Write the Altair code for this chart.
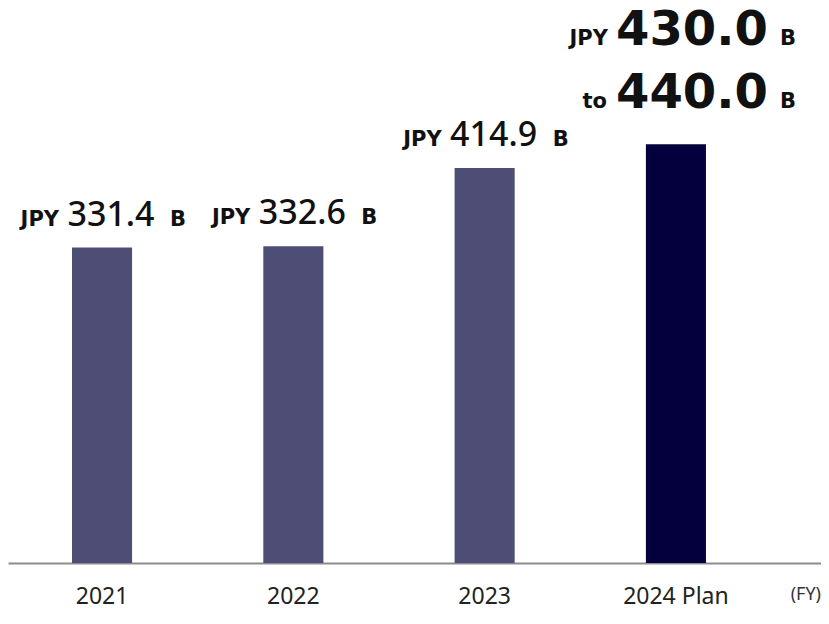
import altair as alt
import pandas as pd

years = ["2021", "2022", "2023", "2024 Plan"]
values = [331.4, 332.6, 414.9, 440.0]
kinds = ["actual", "actual", "actual", "plan"]
plan_low = [None, None, None, 430.0]

df = pd.DataFrame({"year": years, "value": values, "kind": kinds, "low": plan_low})

xenc = alt.X("year:N", sort=years,
             scale=alt.Scale(paddingInner=0.686, paddingOuter=0.468, align=0.3575),
             axis=alt.Axis(title=None, labelAngle=0, labelFontSize=23,
                           labelFont="Noto Sans",
                           labelColor="#222222", domainColor="#8c8c8c", domainWidth=2,
                           ticks=False, tickSize=0, labelPadding=22, grid=False))
yenc = alt.Y("value:Q", scale=alt.Scale(domain=[0, 583], nice=False, zero=True), axis=None)

base = alt.Chart(df)

bars = base.mark_bar().encode(
    x=xenc, y=yenc,
    color=alt.Color("kind:N", scale=alt.Scale(domain=["actual", "plan"],
                                              range=["#4e4d76", "#03003d"]), legend=None),
)

act = base.transform_filter(alt.datum.kind == "actual")
num_act = act.mark_text(font="Noto Sans", fontWeight=500, fontSize=34, align="center",
                        baseline="alphabetic", dx=9, dy=-22, color="#111111").encode(
    x=alt.X("year:N", sort=years), y="value:Q", text=alt.Text("value:Q", format=".1f"))
jpy_act = act.mark_text(font="DejaVu Sans", fontWeight="bold", fontSize=21, align="right",
                        baseline="alphabetic", dx=-43, dy=-22, color="#111111", text="JPY").encode(
    x=alt.X("year:N", sort=years), y="value:Q")
b_act = act.mark_text(font="DejaVu Sans", fontWeight="bold", fontSize=21, align="left",
                      baseline="alphabetic", dx=68, dy=-22, color="#111111", text="B").encode(
    x=alt.X("year:N", sort=years), y="value:Q")

plan = base.transform_filter(alt.datum.kind == "plan")
big = dict(font="DejaVu Sans", fontWeight="bold", fontSize=48, align="center",
           baseline="alphabetic", dx=16, color="#111111")
small = dict(font="DejaVu Sans", fontWeight="bold", fontSize=21, baseline="alphabetic",
             color="#111111")
n1 = plan.mark_text(dy=-99, **big).encode(
    x=alt.X("year:N", sort=years), y="value:Q", text=alt.Text("low:Q", format=".1f"))
n2 = plan.mark_text(dy=-36, **big).encode(
    x=alt.X("year:N", sort=years), y="value:Q", text=alt.Text("value:Q", format=".1f"))
j1 = plan.mark_text(align="right", dx=-68, dy=-99, text="JPY", **small).encode(
    x=alt.X("year:N", sort=years), y="value:Q")
t2 = plan.mark_text(align="right", dx=-69, dy=-36, text="to", **small).encode(
    x=alt.X("year:N", sort=years), y="value:Q")
b1 = plan.mark_text(align="left", dx=104, dy=-99, text="B", **small).encode(
    x=alt.X("year:N", sort=years), y="value:Q")
b2 = plan.mark_text(align="left", dx=104, dy=-36, text="B", **small).encode(
    x=alt.X("year:N", sort=years), y="value:Q")

fy = alt.Chart(pd.DataFrame({"t": ["(FY)"]})).mark_text(
    font="Noto Sans", fontSize=18, align="right", baseline="alphabetic", color="#333333"
).encode(x=alt.value(813), y=alt.value(592), text="t:N")

chart = alt.layer(bars, num_act, jpy_act, b_act, n1, n2, j1, t2, b1, b2, fy).properties(
    width=813, height=555,
    autosize=alt.AutoSizeParams(type="none"),
    padding={"left": 0, "top": 0, "right": 0, "bottom": 61},
).configure_view(stroke=None)

chart.save("out.html", embed_options={"renderer": "svg", "actions": False})
